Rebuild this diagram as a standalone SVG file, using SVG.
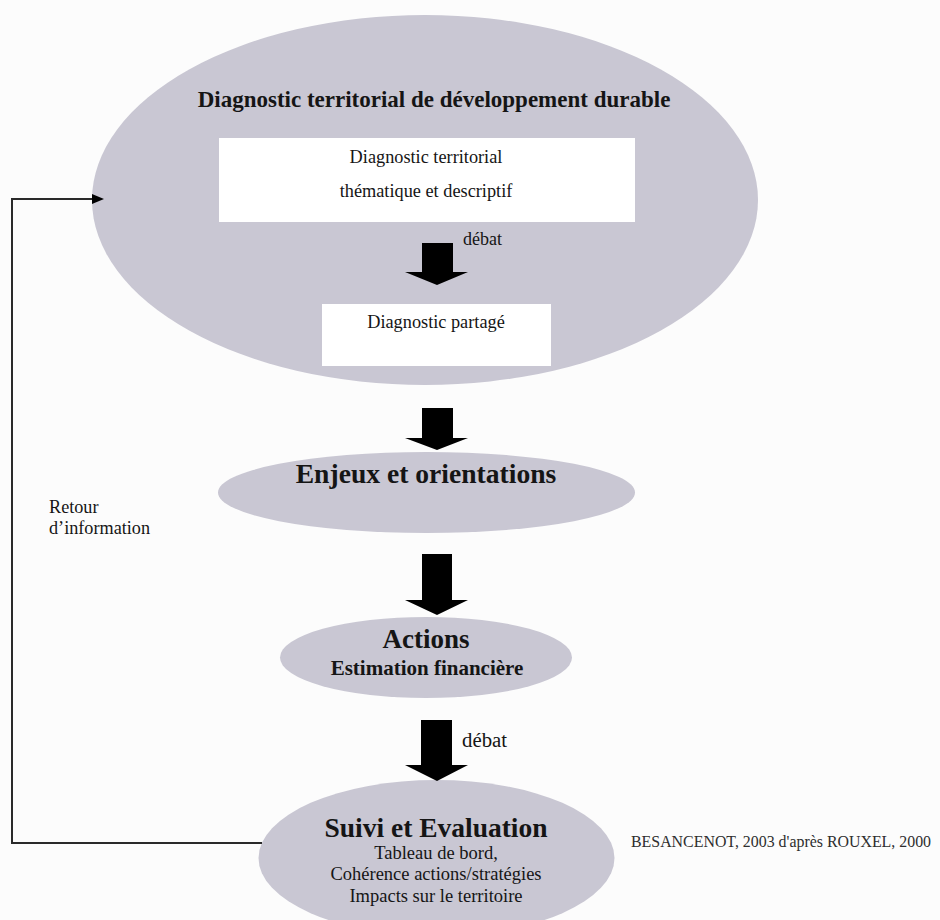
<svg xmlns="http://www.w3.org/2000/svg" width="940" height="920" viewBox="0 0 940 920">
  <defs>
    <style>
      .bg { fill: #fcfcfc; }
      .oval { fill: #c9c7d3; }
      .box { fill: #ffffff; }
      .t { font-family: "Liberation Serif", "Times New Roman", serif; fill: #151515; }
      .b { font-weight: bold; }
      .mid { text-anchor: middle; }
      .block { fill: #000000; }
      .feed { fill: none; stroke: #2a2a2a; stroke-width: 2; }
    </style>
    <marker id="ah" viewBox="0 0 12 10" refX="1" refY="5" markerWidth="12" markerHeight="10" markerUnits="userSpaceOnUse" orient="auto">
      <path d="M0,0 L12,5 L0,10 Z" fill="#000000"/>
    </marker>
  </defs>
  <rect class="bg" x="0" y="0" width="940" height="920"/>

  <g id="diagnostic-durable">
    <ellipse class="oval" cx="425" cy="200" rx="333" ry="185"/>
    <text class="t b mid" x="434" y="107" font-size="23">Diagnostic territorial de développement durable</text>
  </g>

  <g id="diagnostic-thematique">
    <rect class="box" x="219" y="138" width="416" height="84"/>
    <text class="t mid" x="426" y="163" font-size="18.3">Diagnostic territorial</text>
    <text class="t mid" x="426" y="197" font-size="18.3">thématique et descriptif</text>
  </g>

  <g id="diagnostic-partage">
    <rect class="box" x="322" y="304" width="229" height="62"/>
    <text class="t mid" x="436" y="328" font-size="18.3">Diagnostic partagé</text>
  </g>

  <g id="enjeux">
    <ellipse class="oval" cx="426.5" cy="492.5" rx="208.5" ry="40.5"/>
    <text class="t b mid" x="426" y="483" font-size="27.6">Enjeux et orientations</text>
  </g>

  <g id="actions">
    <ellipse class="oval" cx="426" cy="657.5" rx="146" ry="40.5"/>
    <text class="t b mid" x="426" y="648" font-size="27">Actions</text>
    <text class="t b mid" x="427" y="675" font-size="21">Estimation financière</text>
  </g>

  <g id="suivi">
    <ellipse class="oval" cx="436.5" cy="858" rx="178" ry="78"/>
    <text class="t b mid" x="436" y="837" font-size="27.5">Suivi et Evaluation</text>
    <text class="t mid" x="436" y="859" font-size="18.5">Tableau de bord,</text>
    <text class="t mid" x="436" y="880" font-size="18.5">Cohérence actions/stratégies</text>
    <text class="t mid" x="436" y="902" font-size="18.5">Impacts sur le territoire</text>
  </g>

  <g id="labels">
    <text class="t" x="463" y="245" font-size="18">débat</text>
    <text class="t" x="462" y="747" font-size="20.8">débat</text>
    <text class="t" x="49" y="513" font-size="18.2">Retour</text>
    <text class="t" x="49" y="534" font-size="18.2">d’information</text>
    <text class="t" x="631" y="847" font-size="15.9" style="fill:#2e2e2e">BESANCENOT, 2003 d'après ROUXEL, 2000</text>
  </g>

  <g id="connectors">
    <polygon class="block" points="422,243 453,243 453,272 468,272 437,285 405,272 422,272"/>
    <polygon class="block" points="422,408 453,408 453,438 468,438 437,450 405,438 422,438"/>
    <polygon class="block" points="422,554 452,554 452,600 468,600 437,615 405,600 422,600"/>
    <polygon class="block" points="421,720 452,720 452,765 468,765 437,781 405,765 421,765"/>
    <polyline class="feed" points="262,843 12,843 12,199 93,199" marker-end="url(#ah)"/>
  </g>
</svg>
